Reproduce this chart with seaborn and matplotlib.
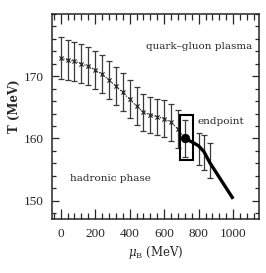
import numpy as np
import pandas as pd
import seaborn as sns
import matplotlib
matplotlib.use("Agg")
import matplotlib.pyplot as plt
from matplotlib.ticker import MultipleLocator
from matplotlib.patches import Rectangle

# ---- data ----
mu_lat = [0, 40, 80, 120, 160, 200, 240, 280, 320, 360, 400, 440, 480, 520,
          560, 600, 640, 680, 720, 800, 830, 865]
T_lat = [172.9, 172.6, 172.4, 172.0, 171.6, 171.0, 170.3, 169.4, 168.4, 167.4,
         166.3, 165.2, 164.2, 163.8, 163.5, 163.2, 162.6, 161.5, 160.0,
         158.3, 157.8, 156.4]
T_err = [3.4, 3.2, 3.1, 3.1, 3.05, 3.05, 3.05, 3.05, 3.05, 3.05, 3.05, 3.0,
         3.0, 2.9, 2.9, 2.9, 3.0, 3.05, 3.0, 2.5, 2.8, 2.8]
n_curve = 19  # points on the dotted crossover curve (0..720)

mu_first = [720, 770, 800, 830, 865, 1000]
T_first = [160.0, 159.3, 158.8, 157.9, 156.1, 150.3]

endpoint_mu, endpoint_T = 720, 160.0
box_mu = (690, 765)
box_T = (156.6, 163.8)

xticks = [0, 200, 400, 600, 800, 1000]
yticks = [150, 160, 170]

sns.set_style("ticks")
plt.rcParams["font.family"] = ["DejaVu Serif"]
plt.rcParams["mathtext.fontset"] = "dejavuserif"

fig = plt.figure(figsize=(2.66, 2.73), dpi=100)
ax = fig.add_axes([0.1955, 0.1967, 0.7782, 0.752])

df_curve = pd.DataFrame({"mu": mu_lat[:n_curve], "T": T_lat[:n_curve]})
df_first = pd.DataFrame({"mu": mu_first, "T": T_first})

# error bars
ax.errorbar(mu_lat, T_lat, yerr=T_err, fmt="none", ecolor="#3a3a3a",
            elinewidth=0.9, capsize=1.9, capthick=0.9, zorder=2)
# dotted crossover line
sns.lineplot(data=df_curve, x="mu", y="T", ax=ax, color="#333333",
             linestyle=(0, (1, 1.2)), linewidth=0.9, zorder=3)
# x markers
sns.scatterplot(data=df_curve.iloc[:-1], x="mu", y="T", ax=ax, marker="x",
                s=9, color="#222222", linewidth=0.8, zorder=4)
# first-order line
sns.lineplot(data=df_first, x="mu", y="T", ax=ax, color="black",
             linewidth=2.4, zorder=5, solid_capstyle="butt")
# endpoint
sns.scatterplot(x=[endpoint_mu], y=[endpoint_T], ax=ax, color="black",
                s=38, edgecolor="black", zorder=6)
# box
ax.add_patch(Rectangle((box_mu[0], box_T[0]), box_mu[1] - box_mu[0],
                       box_T[1] - box_T[0], fill=False, edgecolor="black",
                       linewidth=1.5, zorder=6))

ax.text(1112, 174.8, "quark\u2013gluon plasma", ha="right", va="center",
        fontsize=7.5)
ax.text(793, 162.7, "endpoint", ha="left", va="center", fontsize=7.5)
ax.text(52, 153.6, "hadronic phase", ha="left", va="center", fontsize=7.5)

ax.set_xlim(-50, 1150)
ax.set_ylim(147, 180)
ax.set_xticks(xticks)
ax.set_yticks(yticks)
ax.xaxis.set_minor_locator(MultipleLocator(40))
ax.yaxis.set_minor_locator(MultipleLocator(2))
ax.tick_params(which="both", direction="in", top=True, right=True,
               width=0.9, labelsize=9.5)
for lab in ax.get_xticklabels() + ax.get_yticklabels():
    lab.set_fontfamily(["Liberation Serif", "DejaVu Serif"])
ax.tick_params(which="major", length=5)
ax.tick_params(which="minor", length=2.8)
ax.tick_params(axis="x", which="major", length=7, pad=6)
ax.tick_params(axis="x", which="minor", length=4)
ax.tick_params(axis="y", which="major", pad=6)
for s in ax.spines.values():
    s.set_linewidth(1.1)

ax.set_xlabel(r"$\mu_{\rm B}$ (MeV)", fontsize=8.5, labelpad=3)
ax.set_ylabel("T (MeV)", fontsize=8.5, fontweight="bold")
ax.yaxis.set_label_coords(-0.15, 0.55)

fig.savefig("out.png", dpi=100)
